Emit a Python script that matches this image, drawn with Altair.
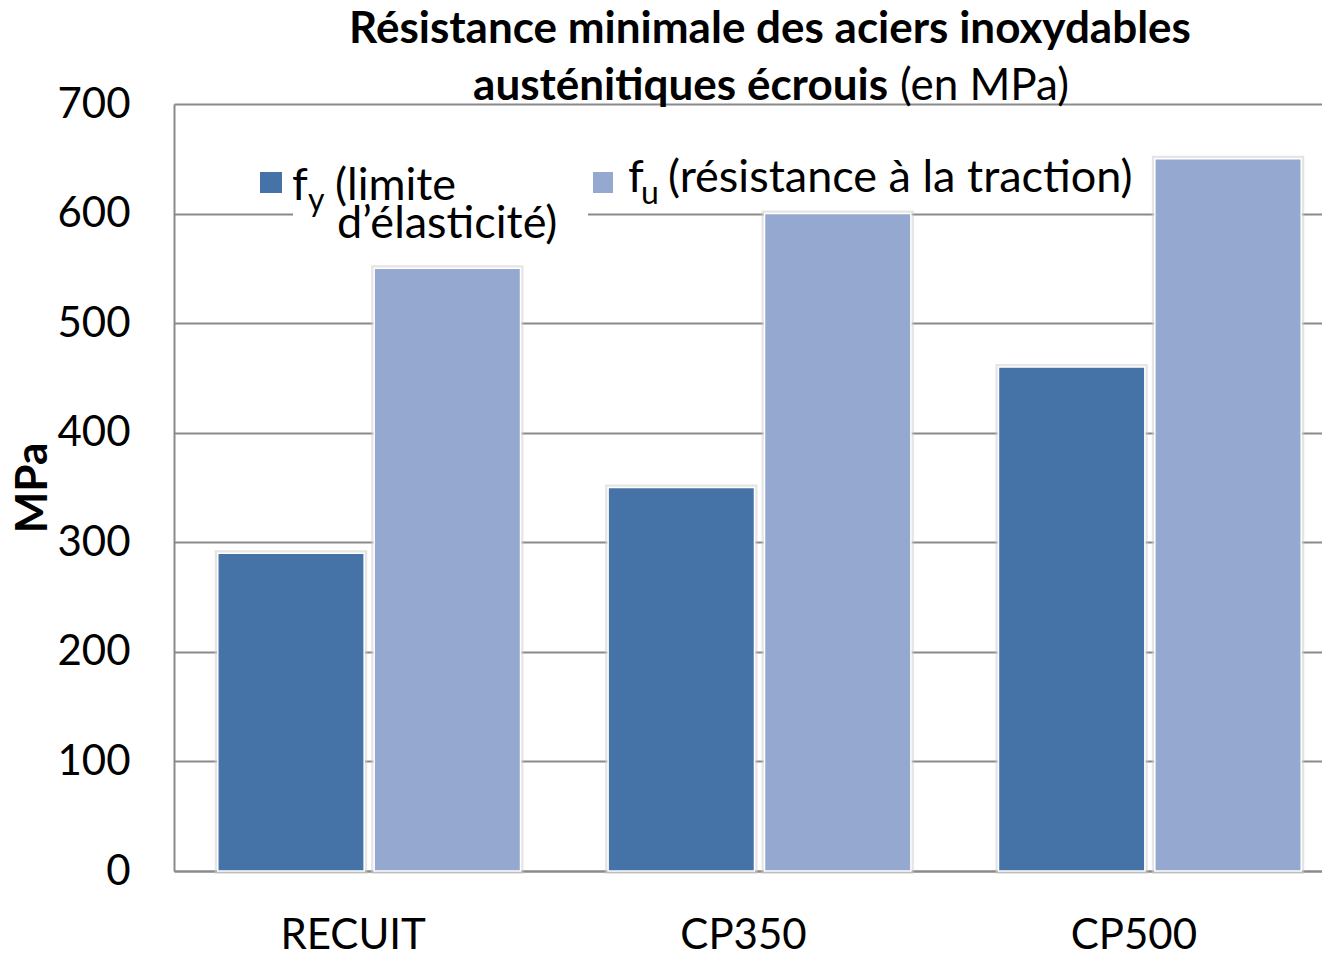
import altair as alt
import pandas as pd

categories = ["RECUIT", "CP350", "CP500"]
fy = [290, 350, 460]
fu = [550, 600, 650]
series = ["fy", "fu"]
colors = ["#4573A7", "#95A9D0"]
y_ticks = [0, 100, 200, 300, 400, 500, 600, 700]

rows = []
for c, a, b in zip(categories, fy, fu):
    rows.append({"cat": c, "serie": "fy", "val": a})
    rows.append({"cat": c, "serie": "fu", "val": b})
df = pd.DataFrame(rows)

FONT = "Lato"
GRID = "#8a8a8a"
W, H = 1148, 767

x_enc = alt.X(
    "cat:N",
    sort=categories,
    scale=alt.Scale(range=[0, 1171], paddingInner=0, paddingOuter=0),
    axis=alt.Axis(
        title=None, labelFontSize=42, labelFont=FONT, labelColor="black",
        labelPadding=44, labelOffset=-16, ticks=False, domainColor=GRID,
        domainWidth=2, labelAngle=0, grid=False,
    ),
)
xo_enc = alt.XOffset(
    "serie:N", sort=series,
    scale=alt.Scale(paddingInner=0.064, paddingOuter=0.28),
)
y_enc = alt.Y(
    "val:Q",
    scale=alt.Scale(domain=[0, 700]),
    axis=alt.Axis(
        values=y_ticks, title="MPa", titleFont=FONT, titleFontSize=44,
        titleFontWeight="bold", titleColor="black", titlePadding=1,
        labelFontSize=42, labelFont=FONT, labelColor="black", labelPadding=44,
        ticks=False, domainColor=GRID, domainWidth=2, gridColor=GRID,
        gridWidth=2,
    ),
)
c_enc = alt.Color("serie:N", scale=alt.Scale(domain=series, range=colors), legend=None)

shadow = alt.Chart(df).mark_bar(
    stroke="#cfcfcf", strokeWidth=6, strokeOpacity=0.55
).encode(x=x_enc, xOffset=xo_enc, y=y_enc, color=c_enc)

bars = alt.Chart(df).mark_bar(stroke="white", strokeWidth=1.5).encode(
    x=x_enc, xOffset=xo_enc, y=y_enc, color=c_enc
)


def one():
    return pd.DataFrame({"t": [""]})


def txt(s, x, y, size, weight="normal", align="left"):
    return alt.Chart(pd.DataFrame({"t": [s]})).mark_text(
        align=align, baseline="alphabetic", fontSize=size, fontWeight=weight,
        font=FONT, color="black",
    ).encode(x=alt.value(x), y=alt.value(y), text="t:N")


def box(x, x2, y, y2, color):
    return alt.Chart(one()).mark_rect(color=color).encode(
        x=alt.value(x), x2=alt.value(x2), y=alt.value(y), y2=alt.value(y2)
    )


LF = 45
SF = 32
layers = [
    shadow,
    bars,
    # title
    txt("Résistance minimale des aciers inoxydables", 596, -61, 44, "bold", "center"),
    txt("austénitiques écrouis", 714, -4, 44, "bold", "right"),
    txt("(en MPa)", 726, -4, 44, "normal", "left"),
    # legend fy
    box(119, 414, 42, 146, "white"),
    box(86, 108, 68, 89, colors[0]),
    txt("f", 118, 96, LF),
    txt("y", 134, 107, SF),
    txt("(limite", 161, 96, LF),
    txt("d\u2019élasticité)", 163, 134, LF),
    # legend fu
    box(419, 439, 68, 89, colors[1]),
    txt("f", 454, 88, LF),
    txt("u", 467, 100, SF),
    txt("(résistance à la traction)", 494, 88, LF),
]

chart = alt.layer(*layers).properties(
    width=W, height=H,
    padding={"left": 166, "top": 96, "right": 0, "bottom": 80},
    autosize="none",
).configure_view(strokeWidth=0)

chart.save("out.html", embed_options={"renderer": "svg", "actions": False})
